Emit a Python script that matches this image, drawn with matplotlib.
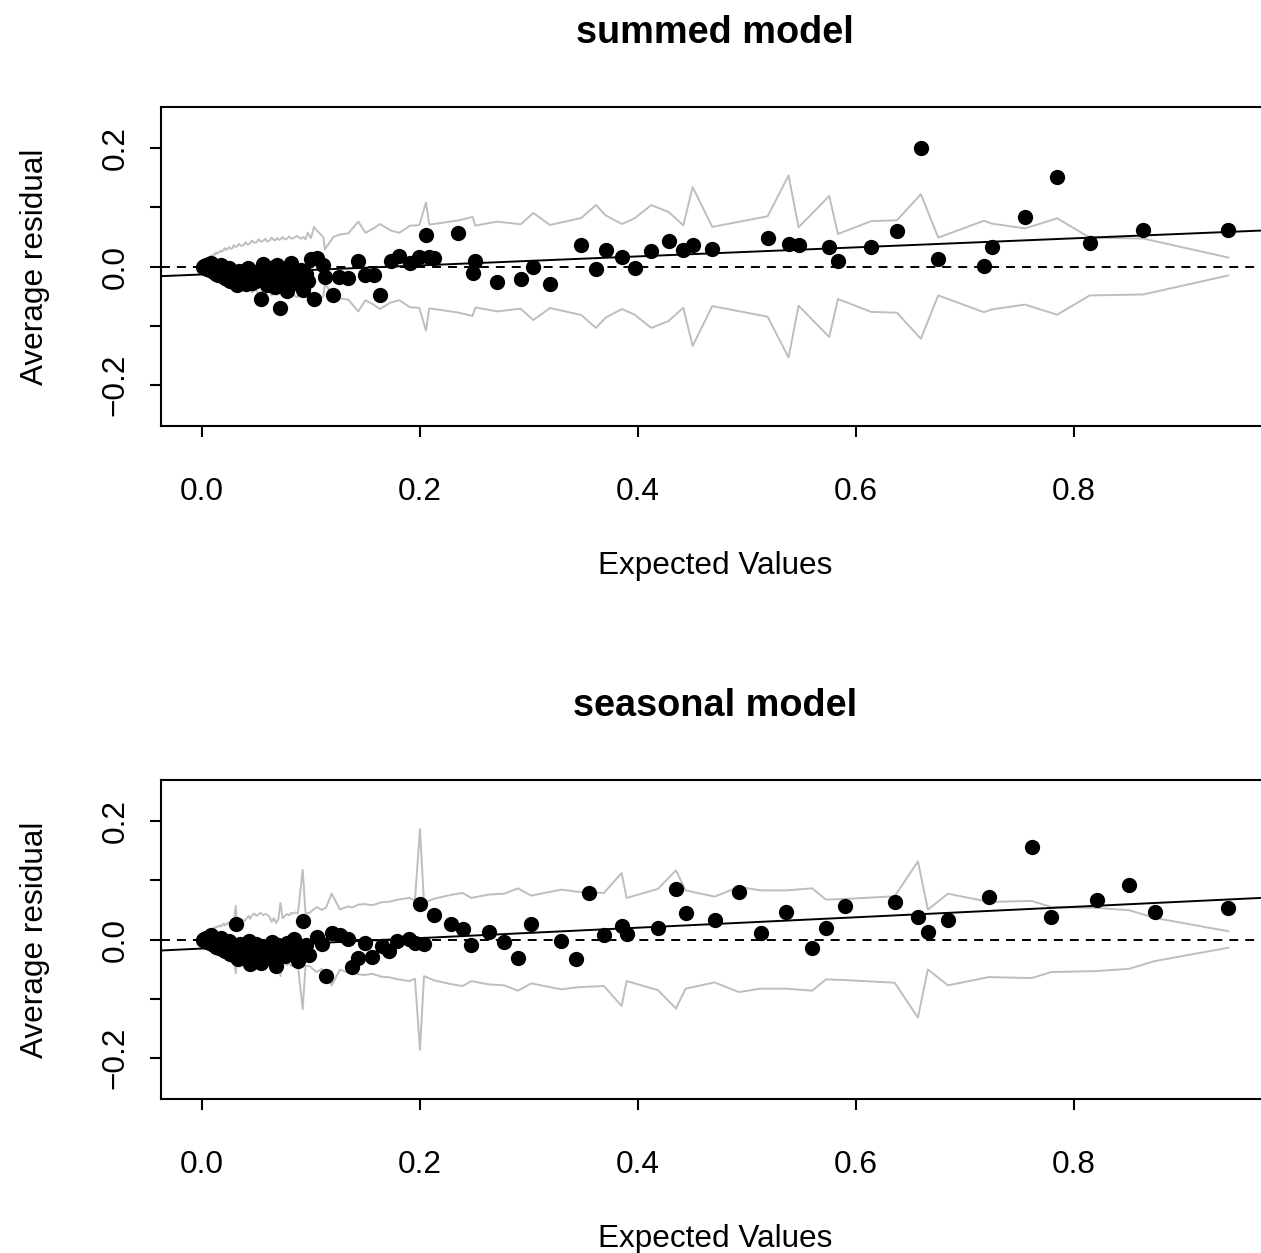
import matplotlib
matplotlib.use("Agg")
import matplotlib.pyplot as plt

plt.rcParams['font.family'] = ['Liberation Sans', 'DejaVu Sans']

# ---- summed model: binned expected values, average residuals, envelope half-width
sum_x = [0.001, 0.002, 0.003, 0.004, 0.005, 0.006, 0.007, 0.008, 0.009, 0.010,
         0.011, 0.012, 0.013, 0.014, 0.015, 0.017, 0.018, 0.019, 0.021, 0.022,
         0.023, 0.025, 0.026, 0.028, 0.029, 0.031, 0.032, 0.034, 0.036, 0.038,
         0.040, 0.042, 0.044, 0.046, 0.048, 0.050, 0.052, 0.054, 0.056, 0.058,
         0.060, 0.062, 0.064, 0.066, 0.067, 0.069, 0.071, 0.072, 0.074, 0.076,
         0.078, 0.080, 0.082, 0.084, 0.087, 0.089, 0.091, 0.093, 0.095, 0.097,
         0.100, 0.1028, 0.1058, 0.1113, 0.1128, 0.1205, 0.126, 0.1342, 0.1434, 0.150,
         0.1578, 0.1633, 0.1731, 0.181, 0.1908, 0.1994, 0.2055, 0.2085, 0.2131, 0.2352,
         0.2483, 0.2508, 0.2709, 0.2924, 0.304, 0.3193, 0.348, 0.3615, 0.3703, 0.3853,
         0.397, 0.4122, 0.4281, 0.4416, 0.4502, 0.4682, 0.519, 0.5382, 0.5474, 0.5755,
         0.5835, 0.614, 0.6376, 0.6596, 0.6755, 0.7174, 0.7248, 0.755, 0.7847, 0.8144,
         0.8636, 0.9416]
sum_y = [-0.001, 0.001, -0.002, 0.002, -0.004, 0.004, -0.006, 0.006, -0.008, 0.003,
         -0.010, 0.001, -0.012, -0.004, -0.014, 0.002, -0.016, -0.006, -0.019, -0.009,
         -0.021, -0.003, -0.024, -0.013, -0.027, -0.018, -0.031, -0.007, -0.023, -0.012,
         -0.029, -0.002, -0.019, -0.028, -0.009, -0.025, -0.013, -0.055, 0.004, -0.021,
         -0.031, -0.008, -0.027, -0.001, -0.034, 0.003, -0.016, -0.071, -0.004, -0.022,
         -0.042, -0.010, 0.006, -0.018, -0.023, -0.030, -0.006, -0.039, -0.012, -0.024,
         0.013, -0.0557, 0.0146, 0.0017, -0.018, -0.0484, -0.0174, -0.020, 0.009, -0.0152,
         -0.0152, -0.0484, 0.009, 0.0174, 0.0062, 0.0164, 0.054, 0.0164, 0.0146, 0.0563,
         -0.0107, 0.0096, -0.0264, -0.0208, -0.0006, -0.0298, 0.0371, -0.0045, 0.0287, 0.0169,
         -0.0028, 0.027, 0.0428, 0.0281, 0.036, 0.0304, 0.0478, 0.0383, 0.036, 0.0338,
         0.0096, 0.0338, 0.0608, 0.2003, 0.0135, 0.0011, 0.0338, 0.0838, 0.1507, 0.0405,
         0.0613, 0.0624]
sum_bound = [0.006, 0.008, 0.010, 0.011, 0.012, 0.014, 0.015, 0.018, 0.016, 0.019,
             0.021, 0.020, 0.024, 0.022, 0.023, 0.027, 0.025, 0.026, 0.031, 0.028,
             0.029, 0.033, 0.030, 0.031, 0.036, 0.033, 0.034, 0.038, 0.035, 0.036,
             0.041, 0.037, 0.039, 0.044, 0.040, 0.041, 0.046, 0.042, 0.043, 0.047,
             0.042, 0.044, 0.049, 0.045, 0.044, 0.048, 0.045, 0.046, 0.050, 0.046,
             0.047, 0.051, 0.047, 0.048, 0.052, 0.049, 0.047, 0.050, 0.046, 0.057,
             0.048, 0.067, 0.060, 0.050, 0.029, 0.050, 0.054, 0.056, 0.076, 0.057,
             0.065, 0.072, 0.061, 0.057, 0.069, 0.070, 0.1085, 0.071, 0.072, 0.078,
             0.0838, 0.0692, 0.076, 0.0714, 0.0906, 0.0703, 0.0821, 0.104, 0.0866, 0.072,
             0.0816, 0.104, 0.0923, 0.0698, 0.1345, 0.067, 0.085, 0.1541, 0.0664, 0.1193,
             0.0551, 0.0768, 0.0782, 0.1224, 0.0489, 0.0774, 0.0726, 0.0645, 0.0816, 0.049,
             0.0473, 0.0152]
sum_fit = (-0.0135, 0.0765)   # intercept, slope

# ---- seasonal model
sea_x = [0.001, 0.002, 0.003, 0.004, 0.005, 0.006, 0.007, 0.008, 0.009, 0.010,
         0.011, 0.012, 0.013, 0.014, 0.016, 0.017, 0.018, 0.020, 0.021, 0.022,
         0.024, 0.025, 0.026, 0.028, 0.029, 0.031, 0.032, 0.033, 0.035, 0.037,
         0.039, 0.041, 0.043, 0.044, 0.046, 0.048, 0.050, 0.052, 0.054, 0.056,
         0.058, 0.060, 0.062, 0.064, 0.066, 0.068, 0.070, 0.072, 0.074, 0.076,
         0.078, 0.080, 0.082, 0.084, 0.086, 0.088, 0.0924, 0.095, 0.0985, 0.1052,
         0.1098, 0.1138, 0.119, 0.1266, 0.1342, 0.1376, 0.1434, 0.1495, 0.1562, 0.1648,
         0.1718, 0.1786, 0.1902, 0.1954, 0.2000, 0.2037, 0.2128, 0.2284, 0.2391, 0.2471,
         0.263, 0.2774, 0.2899, 0.3021, 0.3297, 0.3434, 0.3553, 0.3688, 0.385, 0.3896,
         0.4183, 0.4349, 0.4437, 0.4703, 0.4927, 0.5125, 0.536, 0.5599, 0.5725, 0.59,
         0.6355, 0.6569, 0.666, 0.6844, 0.722, 0.7612, 0.7792, 0.8208, 0.8508, 0.874,
         0.9416]
sea_y = [-0.001, 0.001, -0.002, 0.002, -0.004, 0.004, -0.006, 0.008, -0.008, 0.003,
         -0.010, 0.001, -0.012, -0.004, -0.014, 0.002, -0.016, -0.006, -0.019, -0.009,
         -0.022, -0.003, -0.024, -0.013, -0.027, 0.026, -0.031, -0.033, -0.008, -0.022,
         -0.012, -0.029, -0.002, -0.042, -0.018, -0.030, -0.008, -0.024, -0.039, -0.012,
         -0.020, -0.017, -0.031, -0.005, -0.026, -0.045, -0.010, -0.018, -0.016, -0.028,
         -0.006, -0.020, -0.012, 0.001, -0.024, -0.037, 0.031, -0.010, -0.026, 0.004,
         -0.008, -0.062, 0.011, 0.008, 0.001, -0.046, -0.031, -0.006, -0.029, -0.011,
         -0.019, -0.003, 0.001, -0.0056, 0.0596, -0.0084, 0.041, 0.0265, 0.018, -0.0096,
         0.013, -0.0039, -0.0309, 0.027, -0.0022, -0.0332, 0.0793, 0.0084, 0.0231, 0.0101,
         0.0197, 0.0861, 0.0456, 0.0326, 0.0805, 0.0113, 0.0467, -0.0152, 0.0197, 0.0562,
         0.0641, 0.0377, 0.0124, 0.0326, 0.0726, 0.1558, 0.0388, 0.0664, 0.0928, 0.0473,
         0.0529]
sea_bound = [0.005, 0.007, 0.009, 0.010, 0.011, 0.013, 0.014, 0.017, 0.015, 0.018,
             0.020, 0.019, 0.022, 0.021, 0.024, 0.022, 0.023, 0.027, 0.024, 0.025,
             0.029, 0.026, 0.028, 0.030, 0.027, 0.057, 0.030, 0.028, 0.031, 0.034,
             0.031, 0.036, 0.040, 0.035, 0.041, 0.044, 0.040, 0.043, 0.045, 0.041,
             0.043, 0.042, 0.038, 0.030, 0.036, 0.028, 0.034, 0.062, 0.036, 0.040,
             0.043, 0.041, 0.045, 0.044, 0.046, 0.044, 0.118, 0.045, 0.045, 0.055,
             0.050, 0.054, 0.0776, 0.051, 0.056, 0.054, 0.059, 0.060, 0.058, 0.063,
             0.064, 0.067, 0.0704, 0.0663, 0.1868, 0.062, 0.069, 0.0755, 0.0788, 0.0704,
             0.076, 0.0776, 0.0866, 0.0743, 0.0844, 0.081, 0.0798, 0.0788, 0.1126, 0.0704,
             0.0856, 0.117, 0.0832, 0.0726, 0.089, 0.0832, 0.0832, 0.0866, 0.0675, 0.0687,
             0.0731, 0.1322, 0.0506, 0.0776, 0.0636, 0.0653, 0.0551, 0.0535, 0.0495, 0.0366,
             0.014]
sea_fit = (-0.0153, 0.0882)

xticks = [0.0, 0.2, 0.4, 0.6, 0.8]
xticklabels = ['0.0', '0.2', '0.4', '0.6', '0.8']
yticks = [-0.2, -0.1, 0.0, 0.1, 0.2]
yticklabels = ['\u22120.2', '', '0.0', '', '0.2']

W, H = 1261, 1253
fig = plt.figure(figsize=(W / 100, H / 100), dpi=100)

def px_axes(left, top, right, bottom):
    return fig.add_axes([left / W, 1 - bottom / H, (right - left) / W, (bottom - top) / H])

def panel(ax, title, x, y, bound, fit):
    xlim = (-0.0376, 0.979)
    ax.set_xlim(*xlim)
    ax.set_ylim(-0.27, 0.27)
    ax.plot(x, bound, color='#bebebe', lw=1.4, zorder=1)
    ax.plot(x, [-b for b in bound], color='#bebebe', lw=1.4, zorder=1)
    ax.plot(x, y, 'o', color='black', ms=11, mew=0, zorder=2)
    ax.axhline(0, color='black', lw=1.4, ls=(0, (4.6, 3.6)), zorder=3)
    ax.plot(xlim, [fit[0] + fit[1] * v for v in xlim], color='black', lw=1.4, zorder=3)

    for s in ax.spines.values():
        s.set_linewidth(1.5)
    ax.set_xticks(xticks)
    ax.set_xticklabels(xticklabels)
    ax.set_yticks(yticks)
    ax.set_yticklabels(yticklabels)
    ax.tick_params(length=8, width=1.5, labelsize=22.7, direction='out')
    ax.tick_params(axis='x', pad=45)
    ax.tick_params(axis='y', pad=18.7)
    for lab in ax.get_xticklabels():
        lab.set_va('baseline')
    for lab in ax.get_yticklabels():
        lab.set_rotation(90)
        lab.set_rotation_mode('anchor')
        lab.set_ha('center')
        lab.set_va('baseline')
    ax.set_title(title, pad=46, fontsize=27.3, fontweight='bold')

top = px_axes(161, 107, 1269, 426)
bot = px_axes(161, 780, 1269, 1099)
panel(top, 'summed model', sum_x, sum_y, sum_bound, sum_fit)
panel(bot, 'seasonal model', sea_x, sea_y, sea_bound, sea_fit)

# axis titles, placed like R's mtext lines
cx = (161 + 1269) / 2 / W
for ax_top, ax_bot in [(107, 426), (780, 1099)]:
    fig.text(cx, 1 - (ax_bot + 148) / H, 'Expected Values', fontsize=22.7,
             ha='center', va='baseline')
    fig.text(43 / W, 1 - (ax_top + ax_bot) / 2 / H, 'Average residual', fontsize=22.7,
             rotation=90, rotation_mode='anchor', ha='center', va='baseline')

fig.savefig('out.png', dpi=100)
